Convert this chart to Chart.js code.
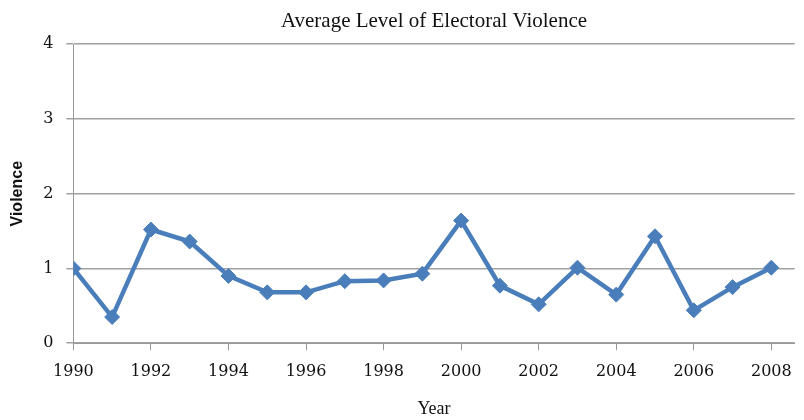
<!DOCTYPE html>
<html lang="en">
<head>
<meta charset="UTF-8">
<title>Average Level of Electoral Violence</title>
<script src="https://cdn.jsdelivr.net/npm/chart.js"></script>
<style>
  html, body { margin: 0; padding: 0; background: #ffffff; }
  #wrap { width: 804px; height: 420px; position: relative; }
</style>
</head>
<body>
<div id="wrap"><canvas id="chart"></canvas></div>
<script>
// Data
const years = [1990, 1991, 1992, 1993, 1994, 1995, 1996, 1997, 1998, 1999,
               2000, 2001, 2002, 2003, 2004, 2005, 2006, 2007, 2008];
const violence = [1.0, 0.35, 1.52, 1.36, 0.9, 0.68, 0.68, 0.83, 0.84, 0.93,
                  1.64, 0.77, 0.52, 1.01, 0.65, 1.43, 0.44, 0.75, 1.01];
const yearTicks = [1990, 1992, 1994, 1996, 1998, 2000, 2002, 2004, 2006, 2008];
const violenceTicks = [0, 1, 2, 3, 4];

const blue = '#4a7ebb';
const serif = "'Liberation Serif', 'Times New Roman', serif";
const tickFont = "'DejaVu Serif', Cambria, serif";

new Chart(document.getElementById('chart'), {
  type: 'line',
  data: {
    datasets: [{
      label: 'Violence',
      data: years.map((y, i) => ({ x: y, y: violence[i] })),
      borderColor: blue,
      backgroundColor: blue,
      borderWidth: 4.5,
      pointStyle: 'rectRot',
      pointRadius: 7.5,
      pointBorderWidth: 1,
      tension: 0
    }]
  },
  options: {
    responsive: true,
    maintainAspectRatio: false,
    animation: false,
    layout: { padding: { left: 8, right: 0, top: 0, bottom: 0 } },
    plugins: {
      legend: { display: false },
      tooltip: { enabled: false },
      title: {
        display: true,
        text: 'Average Level of Electoral Violence',
        fullSize: false,
        color: '#111',
        font: { family: serif, size: 21, weight: 'normal' },
        padding: { top: 9, bottom: 10 }
      }
    },
    scales: {
      x: {
        type: 'linear',
        min: 1990,
        max: 2008.6,
        afterBuildTicks: scale => {
          scale.ticks = yearTicks.map(v => ({ value: v }));
        },
        grid: { drawOnChartArea: false, drawTicks: true, tickLength: 7, color: '#999' },
        border: { display: true, color: '#999', width: 1 },
        ticks: {
          color: '#111',
          font: { family: tickFont, size: 16 },
          padding: 12,
          maxRotation: 0,
          callback: v => String(v)
        },
        title: {
          display: true,
          text: 'Year',
          color: '#111',
          font: { family: serif, size: 18 },
          padding: { top: 5, bottom: 0 }
        }
      },
      y: {
        min: 0,
        max: 4,
        afterBuildTicks: scale => {
          scale.ticks = violenceTicks.map(v => ({ value: v }));
        },
        grid: { color: '#a0a0a0', lineWidth: 1.5, tickLength: 7 },
        border: { display: true, color: '#999', width: 1 },
        ticks: {
          color: '#111',
          font: { family: tickFont, size: 16 },
          padding: 13
        },
        title: {
          display: true,
          text: 'Violence',
          color: '#111',
          font: { family: "'Liberation Sans', Arial, sans-serif", size: 16, weight: 'bold' },
          padding: { top: 0, bottom: 3 }
        }
      }
    }
  }
});
</script>
</body>
</html>
